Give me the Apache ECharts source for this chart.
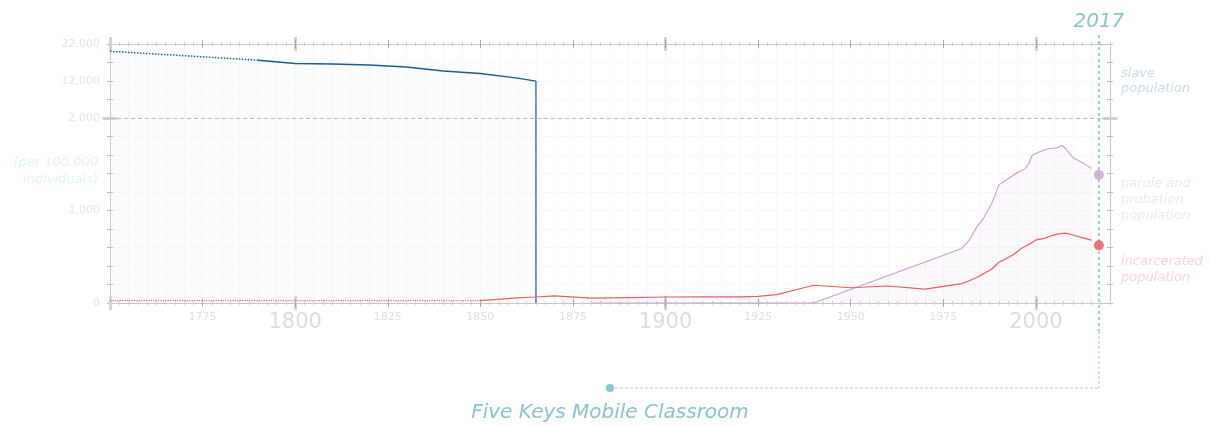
<!DOCTYPE html>
<html>
<head>
<meta charset="utf-8">
<script src="https://cdn.jsdelivr.net/npm/echarts@6/dist/echarts.min.js"></script>
<style>
  html, body { margin: 0; padding: 0; background: #ffffff; }
  #chart { width: 1211px; height: 426px; }
</style>
</head>
<body>
<div id="chart"></div>
<script>
// Rates per 100,000 individuals, by year
const slaveEstimateYears = [1750, 1790];
const slaveEstimateRates = [20050, 17620];
const slaveYears = [1790, 1800, 1810, 1820, 1830, 1840, 1850, 1860, 1865];
const slaveRates = [17620, 16720, 16580, 16320, 15780, 14690, 14010, 12790, 11980];
const emancipationYear = 1865;

const incarceratedEstimateYears = [1750, 1850];
const incarceratedEstimateRates = [25, 25];
const incarceratedYears = [1850, 1860, 1865, 1870, 1880, 1890, 1900, 1910, 1920, 1925, 1930, 1940, 1950, 1960, 1970, 1980, 1982, 1984, 1986, 1988, 1990, 1992, 1994, 1996, 1998, 2000, 2002, 2004, 2006, 2008, 2010, 2012, 2014, 2015];
const incarceratedRates = [25, 55, 65, 78, 52, 58, 65, 67, 67, 72, 90, 192, 165, 184, 150, 210, 240, 275, 320, 365, 440, 480, 525, 590, 630, 682, 695, 725, 748, 755, 735, 712, 690, 680];

const paroleYears = [1880, 1940, 1980, 1982, 1984, 1986, 1988, 1989, 1990, 1992, 1995, 1997, 1998, 1999, 2001, 2003, 2005, 2006, 2007, 2008, 2010, 2012, 2014, 2015];
const paroleRates = [0, 0, 590, 680, 820, 926, 1070, 1170, 1277, 1330, 1410, 1450, 1500, 1600, 1635, 1665, 1675, 1680, 1703, 1670, 1570, 1530, 1480, 1455];

const markerYear = 2017;
const incarceratedAtMarker = 623;
const paroleAtMarker = 1385;

const yLabelValues = [0, 1000, 2000, 12000, 22000];
const xLabelYears = [1775, 1800, 1825, 1850, 1875, 1900, 1925, 1950, 1975, 2000];
const centuryYears = [1800, 1900, 2000];
const heavyTickYears = [1750, 1800, 1900, 2000];

// Broken y scale: linear up to 2,000, compressed 25x above it
const BREAK = 2000;
const UPPER_SCALE = 25;
const toAxis = v => (v <= BREAK ? v : BREAK + (v - BREAK) / UPPER_SCALE);
const fromAxis = t => (t <= BREAK ? t : BREAK + (t - BREAK) * UPPER_SCALE);
const pairs = (xs, ys) => xs.map((x, i) => [x, toAxis(ys[i])]);

const X_MIN = 1750, X_MAX = 2020;
const Y_MAX = toAxis(22000);
const FONT = 'DejaVu Sans';
const TEAL = '#86c5ca';

const chart = echarts.init(document.getElementById('chart'), null, { renderer: 'canvas' });

function xAxis(position, extra) {
  return Object.assign({
    type: 'value', min: X_MIN, max: X_MAX, position: position,
    axisLine: { show: false, onZero: false },
    axisTick: { show: false },
    axisLabel: { show: false },
    splitLine: { show: false }
  }, extra);
}
function yAxis(position, extra) {
  return Object.assign({
    type: 'value', min: 0, max: Y_MAX, interval: 200, position: position,
    axisLine: { show: false, onZero: false },
    axisTick: { show: false },
    axisLabel: { show: false },
    splitLine: { show: false }
  }, extra);
}

function xTickSet(position) {
  return [
    xAxis(position, { interval: 2.5, offset: -2,
      axisTick: { show: true, length: 4, lineStyle: { color: '#cccccc', width: 1 } } }),
    xAxis(position, { interval: 25, offset: -7,
      axisTick: { show: true, customValues: heavyTickYears, length: 14, lineStyle: { color: '#d2d2d2', width: 3 } } }),
    xAxis(position, { interval: 25, offset: -4,
      axisTick: { show: true, customValues: xLabelYears, length: 8, lineStyle: { color: '#a8a8a8', width: 1 } } })
  ];
}
function yTickSet(position) {
  return [
    yAxis(position, { offset: -3,
      axisTick: { show: true, length: 6, lineStyle: { color: '#bdbdbd', width: 1 } } }),
    yAxis(position, { offset: -7.5,
      axisTick: { show: true, customValues: [BREAK], length: 15, lineStyle: { color: '#d0d0d0', width: 3 } } })
  ];
}

const xAxes = [
  // main bottom axis with year labels
  xAxis('bottom', {
    interval: 25,
    axisLine: { show: true, onZero: false, lineStyle: { color: '#c6c6c6', width: 1 } },
    axisLabel: {
      show: true, customValues: xLabelYears, margin: 9,
      formatter: v => (centuryYears.includes(v) ? '{big|' + v + '}' : '{small|' + v + '}'),
      rich: {
        big: { fontFamily: FONT, fontSize: 21, color: '#dcdcdc' },
        small: { fontFamily: FONT, fontSize: 11, color: '#e0e0e0' }
      }
    }
  }),
  ...xTickSet('bottom'),
  xAxis('top', {
    interval: 25,
    axisLine: { show: true, onZero: false, lineStyle: { color: '#c6c6c6', width: 1 } }
  }),
  ...xTickSet('top'),
  // faint vertical grid every 5 years
  xAxis('bottom', { interval: 5, splitLine: { show: true, lineStyle: { color: '#f8f8f8', width: 1 } } })
];

const yAxes = [
  yAxis('left', {
    axisLine: { show: true, onZero: false, lineStyle: { color: '#c6c6c6', width: 1 } },
    splitLine: { show: true, lineStyle: { color: '#f8f8f8', width: 1 } },
    axisLabel: {
      show: true, customValues: yLabelValues.map(toAxis), margin: 10,
      fontFamily: FONT, fontSize: 11, color: '#e4e4e4',
      formatter: t => Math.round(fromAxis(t)).toLocaleString('en-US')
    }
  }),
  ...yTickSet('left'),
  yAxis('right', {
    axisLine: { show: true, onZero: false, lineStyle: { color: '#c6c6c6', width: 1 } }
  }),
  ...yTickSet('right')
];

const option = {
  animation: false,
  backgroundColor: '#ffffff',
  grid: { left: 110, right: 101, top: 44, bottom: 123, containLabel: false },
  xAxis: xAxes,
  yAxis: yAxes,
  series: [
    {
      name: 'slave population (estimate)', type: 'line', symbol: 'none', z: 3,
      data: pairs(slaveEstimateYears, slaveEstimateRates),
      lineStyle: { color: '#1d5e9a', width: 1.5, type: 'dotted' },
      areaStyle: { color: 'rgba(222,240,236,0.22)', origin: 'start' }
    },
    {
      name: 'slave population', type: 'line', symbol: 'none', z: 3,
      data: pairs(slaveYears, slaveRates),
      lineStyle: { color: '#1b5a95', width: 1.4 },
      areaStyle: { color: 'rgba(222,240,236,0.22)', origin: 'start' }
    },
    {
      name: 'emancipation', type: 'line', symbol: 'none', z: 3,
      data: [[emancipationYear, toAxis(slaveRates[slaveRates.length - 1])], [emancipationYear, 0]],
      lineStyle: { color: '#3f7db3', width: 1.5 }
    },
    {
      name: 'parole and probation population', type: 'line', symbol: 'none', z: 3,
      data: pairs(paroleYears, paroleRates),
      lineStyle: { color: '#c99dcc', width: 1.1 },
      areaStyle: { color: 'rgba(226,200,236,0.16)', origin: 'start' },
      markLine: {
        silent: true, symbol: 'none', label: { show: false },
        lineStyle: { color: '#bdbdbd', width: 1, type: [4, 3] },
        data: [{ yAxis: BREAK }]
      }
    },
    {
      name: 'incarcerated population (estimate)', type: 'line', symbol: 'none', z: 4,
      data: pairs(incarceratedEstimateYears, incarceratedEstimateRates),
      lineStyle: { color: '#ef6a70', width: 1.2, type: 'dotted' }
    },
    {
      name: 'incarcerated population', type: 'line', symbol: 'none', z: 4,
      data: pairs(incarceratedYears, incarceratedRates),
      lineStyle: { color: '#ee5a60', width: 1.2 }
    },
    {
      name: 'marker', type: 'scatter', symbolSize: 10, z: 6,
      data: [
        { value: [markerYear, toAxis(paroleAtMarker)], itemStyle: { color: '#c79fcc' } },
        { value: [markerYear, toAxis(incarceratedAtMarker)], itemStyle: { color: '#ee5158' } }
      ]
    }
  ]
};

chart.setOption(option);

// Marker year line, callout and side labels
const gx = chart.convertToPixel({ xAxisIndex: 0 }, markerYear);
const gTop = chart.convertToPixel({ yAxisIndex: 0 }, Y_MAX);
const gBottom = chart.convertToPixel({ yAxisIndex: 0 }, 0);
const calloutY = 388;
const calloutX = 610;
const labelX = 1121;
const italic = (text, x, y, color, size, align, lh) => ({
  type: 'text', x: x, y: y, z: 10,
  style: {
    text: text, fill: color, fontFamily: FONT, fontStyle: 'italic', fontSize: size,
    align: align, verticalAlign: 'middle', lineHeight: lh || size
  }
});

chart.setOption({
  graphic: [
    { type: 'line', z: 5, shape: { x1: gx, y1: gTop - 9, x2: gx, y2: gBottom + 28 },
      style: { stroke: '#9bd0d4', lineWidth: 2, lineDash: [3, 3] } },
    { type: 'line', z: 5, shape: { x1: gx, y1: gBottom + 28, x2: gx, y2: calloutY },
      style: { stroke: '#9bd0d4', lineWidth: 1, lineDash: [3, 2] } },
    { type: 'line', z: 5, shape: { x1: calloutX, y1: calloutY, x2: gx, y2: calloutY },
      style: { stroke: '#9bd0d4', lineWidth: 1, lineDash: [3, 2] } },
    { type: 'circle', z: 6, shape: { cx: calloutX, cy: calloutY, r: 4 }, style: { fill: TEAL } },
    italic(String(markerYear), gx, 22, TEAL, 20, 'center'),
    italic('Five Keys Mobile Classroom', calloutX, 413, TEAL, 20, 'center'),
    italic('(per 100,000\nindividuals)', 98, 171, '#e3f2f2', 13, 'right', 17),
    italic('slave\npopulation', labelX, 81, '#c9dbea', 13, 'left', 15),
    italic('parole and\nprobation\npopulation', labelX, 200, '#f3e5f3', 13, 'left', 16),
    italic('incarcerated\npopulation', labelX, 270, '#fcd3d3', 13, 'left', 16)
  ]
});
</script>
</body>
</html>
